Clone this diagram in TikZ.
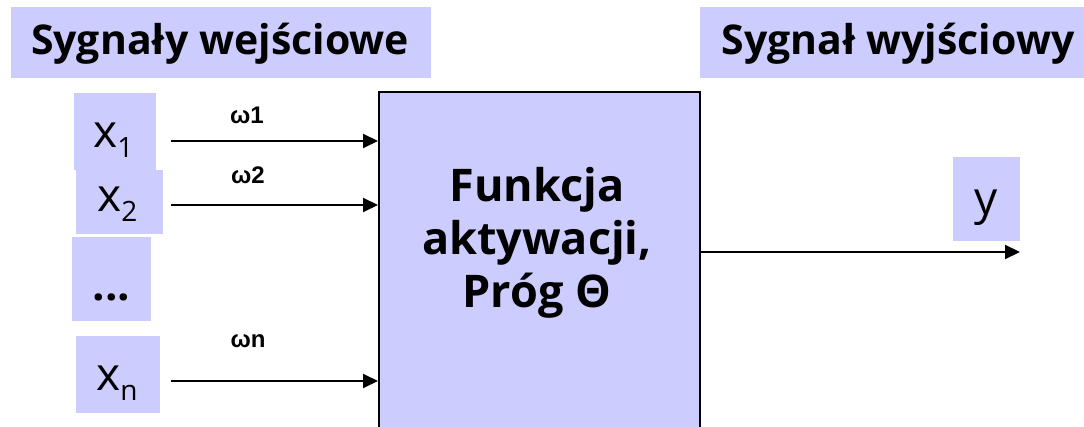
\documentclass[tikz,border=0pt]{standalone}
\usepackage{fontspec}
\setmainfont{Open Sans}
\newfontfamily\labfont{Liberation Sans}
\usetikzlibrary{arrows.meta}
\definecolor{boxfill}{HTML}{CCCCFF}
\tikzset{
  fillbox/.style={fill=boxfill, draw=none, inner sep=0pt, outer sep=0pt},
  bigbox/.style={fill=boxfill, draw=black, line width=2pt, inner sep=0pt},
  titletext/.style={font=\fontsize{41}{41}\selectfont\bfseries, inner sep=0pt},
  vartext/.style={inner sep=0pt},
  wlabel/.style={font=\labfont\fontsize{24}{24}\selectfont\bfseries, inner sep=0pt},
  arr/.style={line width=2pt, -{Triangle[length=15pt,width=14pt]}},
}
\newcommand{\varsym}[2]{{\fontsize{46}{46}\selectfont x}\raisebox{-10pt}{\fontsize{28}{28}\selectfont #1}}
\begin{document}
\begin{tikzpicture}[x=1pt,y=-1pt]
\useasboundingbox (0,0) rectangle (1084,427);
% title boxes
\node[fillbox, minimum width=420pt, minimum height=71pt] (tin) at (221,42.5) {};
\node[titletext, anchor=base] (tint) at (220,55) {Sygnały wejściowe};
\node[fillbox, minimum width=390pt, minimum height=71pt] (tout) at (895,42.5) {};
\node[titletext, anchor=base] (toutt) at (898,55) {Sygnał wyjściowy};
% input boxes
\node[fillbox, minimum width=82pt, minimum height=77pt] (b1) at (115,131.5) {};
\node[fillbox, minimum width=87pt, minimum height=64pt] (b2) at (119.5,202) {};
\node[fillbox, minimum width=79pt, minimum height=84pt] (bd) at (111.5,279) {};
\node[fillbox, minimum width=84pt, minimum height=77pt] (bn) at (118,374.5) {};
\node[vartext, anchor=base west] (x1) at (93,148) {\varsym{1}{}};
\node[vartext, anchor=base west] (x2) at (97,212) {\varsym{2}{}};
\node[vartext, anchor=base] (dots) at (111.5,301) {\fontsize{44}{44}\selectfont\bfseries ...};
\node[vartext, anchor=base west] (xn) at (96,390) {\varsym{n}{}};
% main box
\node[bigbox, minimum width=321pt, minimum height=360pt] (F) at (539.5,272) {};
\node[align=center, inner sep=0pt, font=\fontsize{45}{53}\selectfont\bfseries] (Ft) at (537,243) {Funkcja\\aktywacji,\\Próg Θ};
% output box
\node[fillbox, minimum width=67pt, minimum height=84pt] (by) at (986.5,199) {};
\node[vartext, anchor=base] (y) at (986,215) {\fontsize{46}{46}\selectfont y};
% arrows
\coordinate (a1) at (171,141);
\coordinate (a2) at (171,205);
\coordinate (an) at (171,381);
\coordinate (ay) at (1020,252);
\draw[arr] (a1) -- (a1 -| F.west);
\draw[arr] (a2) -- (a2 -| F.west);
\draw[arr] (an) -- (an -| F.west);
\draw[arr] (ay -| F.east) -- (ay);
% weight labels
\node[wlabel] (w1) at (247,115) {ω1};
\node[wlabel] (w2) at (248,175) {ω2};
\node[wlabel] (wn) at (248,341) {ωn};
\end{tikzpicture}
\end{document}
